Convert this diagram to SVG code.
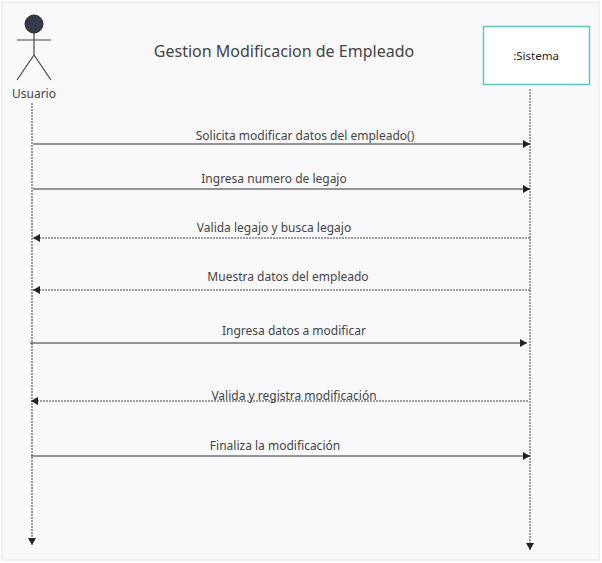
<svg xmlns="http://www.w3.org/2000/svg" width="602" height="563" viewBox="0 0 602 563">
<style>
text{font-family:"Noto Sans","Open Sans",sans-serif;fill:#444;}
.lbl{font-size:12px;text-anchor:middle;}
.life{stroke:#444;stroke-width:1;stroke-dasharray:2,1;fill:none;}
.msg{stroke:#333;stroke-width:1.2;fill:none;}
.ret{stroke:#444;stroke-width:1;stroke-dasharray:2,1;fill:none;}
</style>
<defs>
<marker id="ah" markerWidth="8" markerHeight="8" refX="7" refY="4" orient="auto" markerUnits="userSpaceOnUse"><path d="M0,0 L7,4 L0,8 z" fill="#222"/></marker>
</defs>
<rect x="0" y="0" width="602" height="563" fill="#fff"/>
<rect x="2" y="2" width="597" height="558" fill="#f9f9fb" stroke="#e4e4e8"/>
<text x="284" y="57" style="font-size:16px;text-anchor:middle">Gestion Modificacion de Empleado</text>
<g id="usuario">
<circle cx="34" cy="24" r="9" fill="#343a4a" stroke="#2a2a2a"/>
<g stroke="#444" stroke-width="1.2" fill="none">
<line x1="34" y1="33" x2="34" y2="55"/>
<line x1="17" y1="40" x2="51" y2="40"/>
<line x1="34" y1="55" x2="17" y2="80"/>
<line x1="34" y1="55" x2="51" y2="80"/>
</g>
<text x="34" y="98" class="lbl">Usuario</text>
</g>
<g id="sistema">
<rect x="483.5" y="26.5" width="106" height="58" fill="#fff" stroke="#5fc4c4" stroke-width="1.5"/>
<text x="536" y="60" class="lbl" style="fill:#222;font-size:11.5px">:Sistema</text>
</g>
<g id="connectors">
<line class="life" x1="32" y1="103" x2="32" y2="545" marker-end="url(#ah)"/>
<line class="life" x1="530" y1="89" x2="530" y2="550" marker-end="url(#ah)"/>
<line class="msg" x1="33" y1="144" x2="530" y2="144" marker-end="url(#ah)"/>
<text x="305" y="140" class="lbl">Solicita modificar datos del empleado()</text>
<line class="msg" x1="33" y1="189" x2="530" y2="189" marker-end="url(#ah)"/>
<text x="274" y="183" class="lbl">Ingresa numero de legajo</text>
<line class="ret" x1="530" y1="238" x2="33" y2="238" marker-end="url(#ah)"/>
<text x="274" y="232" class="lbl">Valida legajo y busca legajo</text>
<line class="ret" x1="530" y1="290" x2="33" y2="290" marker-end="url(#ah)"/>
<text x="288" y="281" class="lbl">Muestra datos del empleado</text>
<line class="msg" x1="30" y1="343" x2="527" y2="343" marker-end="url(#ah)"/>
<text x="294" y="335" class="lbl">Ingresa datos a modificar</text>
<line class="ret" x1="528" y1="401" x2="31" y2="401" marker-end="url(#ah)"/>
<text x="294" y="400" class="lbl">Valida y registra modificación</text>
<line class="msg" x1="31" y1="456" x2="530" y2="456" marker-end="url(#ah)"/>
<text x="275" y="450" class="lbl">Finaliza la modificación</text>
</g>
</svg>
